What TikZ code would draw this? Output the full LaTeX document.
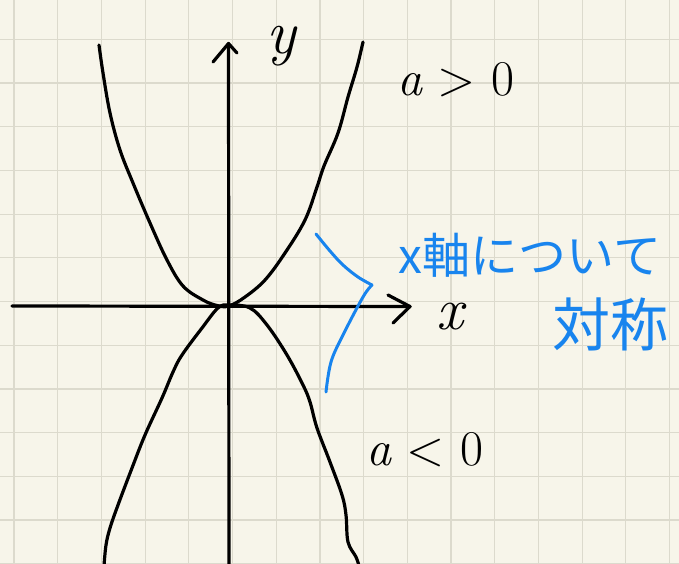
\documentclass[tikz,border=0pt]{standalone}
\usepackage{fontspec}
\newfontfamily\jpfont{Noto Sans CJK JP}
\definecolor{paper}{HTML}{F7F5EA}
\definecolor{gridc}{HTML}{DCDACD}
\definecolor{pen}{HTML}{1884EE}
\begin{document}
\begin{tikzpicture}[x=1pt,y=-1pt,
  ink/.style={line width=3.2pt,line cap=round,line join=round},
  blueink/.style={ink,draw=pen,line width=3pt},
  gridline/.style={gridc,line width=1.2pt},
  hand/.style={inner sep=0pt,font=\fontsize{#1}{#1}\selectfont},
  bluetext/.style={inner sep=0pt,text=pen,font=\jpfont\fontsize{#1}{#1}\selectfont}]
\useasboundingbox (0,0) rectangle (679,564);
\fill[paper] (0,0) rectangle (679,564);
\foreach \i in {0,...,15} \draw[gridline] ({14+43.7*\i},0) -- ({14+43.7*\i},564);
\foreach \j in {0,...,12} \draw[gridline] (0,{39.3+43.7*\j}) -- (679,{39.3+43.7*\j});
% axes
\coordinate (xs) at (12,306);
\coordinate (xe) at (410,306.5);
\coordinate (ys) at (229,566);
\coordinate (ye) at (228.5,43.5);
\coordinate (xa1) at (388,295);
\coordinate (xa2) at (393,323);
\coordinate (ya1) at (213,62);
\coordinate (ya2) at (237,53);
\draw[ink] (xs) -- (xe);
\draw[ink] (xa1) -- (xe) -- (xa2);
\draw[ink] (ys) -- (ye);
\draw[ink] (ya1) -- (ye) -- (ya2);
% a>0 parabola
\draw[ink] plot[smooth,tension=0.6] coordinates {(99,45) (103,73) (110,113) (120,150) (133,183) (150,223) (167,260) (183,286) (203,300) (217,305.5) (229,306) (245,297) (265,280) (285,253) (305,220) (317,187) (324,166) (338,133) (348,97) (357,67) (363,42)};
% a<0 parabola
\draw[ink] plot[smooth,tension=0.6] coordinates {(104,566) (106,545) (110,528) (118,505) (132,468) (145,435) (162,398) (173,372) (182,355) (202,328) (218,308) (229,305) (250,308) (267,325) (287,355) (303,385) (310,402) (317,428) (330,462) (342,495) (346,515) (348,542) (356,557) (359,566)};
% blue bracket
\draw[blueink] plot[smooth,tension=0.6] coordinates {(316,234) (330,251) (343,265) (358,277) (372,285)};
\draw[blueink] plot[smooth,tension=0.6] coordinates {(372,285) (363,297) (343,335) (331,362) (326,392)};
% labels
\node[hand=62] (ylab) at (281,46) {\itshape y};
\node[hand=60] (xlab) at (450,317) {\itshape x};
\node[hand=50] (apos) at (456,80) {{\itshape a} > 0};
\node[hand=50] (aneg) at (425,450) {{\itshape a} < 0};
\node[bluetext=48] (sym1) at (530,255) {x軸について};
\node[bluetext=58] (sym2) at (610,324) {対称};
\end{tikzpicture}
\end{document}
